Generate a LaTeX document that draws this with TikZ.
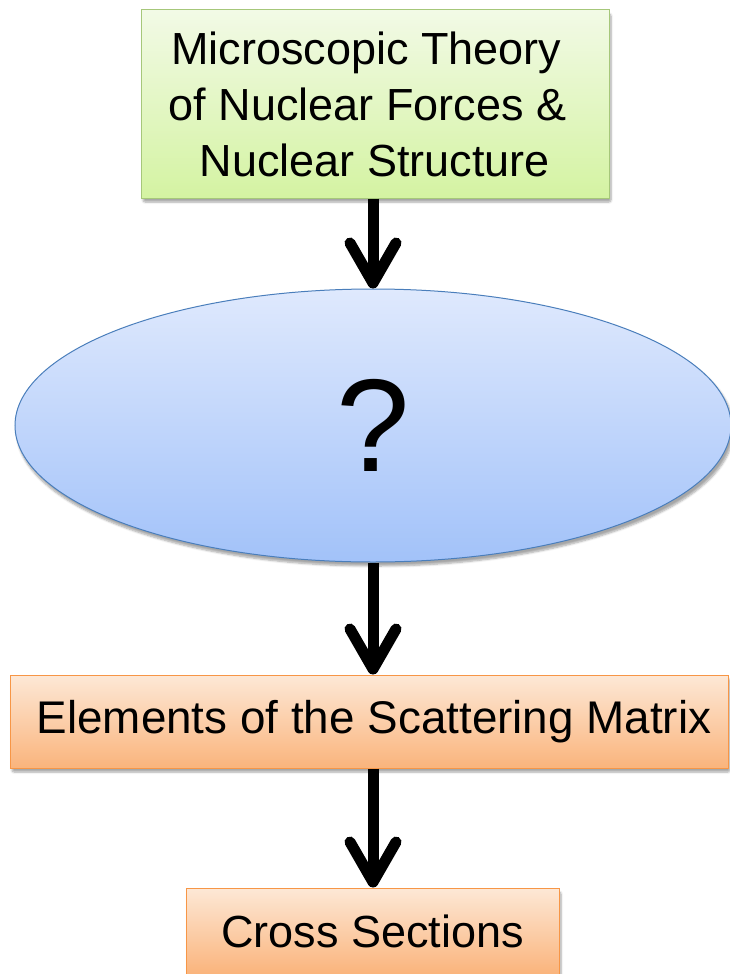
\documentclass[tikz,border=0pt]{standalone}
\usepackage{fontspec}
\setmainfont{Liberation Sans}
\usetikzlibrary{shapes.geometric, arrows.meta, shadows.blur}

\definecolor{grTop}{HTML}{F2FAE6}
\definecolor{grBot}{HTML}{D4F3A2}
\definecolor{grLine}{HTML}{A6C77A}
\definecolor{blTop}{HTML}{DFE9FD}
\definecolor{blBot}{HTML}{A2C2F9}
\definecolor{blLine}{HTML}{4A7EBB}
\definecolor{orTop}{HTML}{FDE8D6}
\definecolor{orBot}{HTML}{FAB47C}
\definecolor{orLine}{HTML}{F79646}

\tikzset{
  softshadow/.style={blur shadow={shadow xshift=2pt, shadow yshift=-4pt,
      shadow blur steps=6, shadow blur extra rounding=2pt, shadow opacity=35}},
  theorybox/.style={draw=grLine, line width=1pt, top color=grTop, bottom color=grBot,
      rectangle, inner sep=0pt, align=center, softshadow,
      font=\fontsize{45}{56}\selectfont},
  blob/.style={draw=blLine, line width=1pt, top color=blTop, bottom color=blBot,
      ellipse, inner sep=0pt, softshadow, font=\fontsize{132}{132}\selectfont},
  resultbox/.style={draw=orLine, line width=1pt, top color=orTop, bottom color=orBot,
      rectangle, inner sep=0pt, softshadow},
  flow/.style={line width=11pt, black,
      -{Straight Barb[length=40pt, width=46pt, round]},
      preaction={draw=black, opacity=0.18,
        transform canvas={xshift=3pt, yshift=-3pt}}},
}

\begin{document}
\begin{tikzpicture}[x=1pt, y=-1pt]
\useasboundingbox (0,0) rectangle (730,974);

% boxes of the chain (trailing kerns keep the first two lines left of centre)
\node[theorybox, minimum width=468pt, minimum height=188pt] (theory) at (375,104)
  {\hbox{Microscopic Theory\kern17pt}\\\hbox{of Nuclear Forces \&\kern15pt}\\ Nuclear Structure};
\node[blob, minimum width=716pt, minimum height=273pt] (unknown) at (373,425.5) {?};
\node[resultbox, minimum width=718pt, minimum height=93pt,
      font=\fontsize{45.8}{54}\selectfont] (smatrix) at (369,721.5)
  {\hspace*{10pt}Elements of the Scattering Matrix};
\node[resultbox, minimum width=373pt, minimum height=86pt,
      font=\fontsize{45}{54}\selectfont] (xsec) at (372.5,931)
  {Cross Sections};

% connectors
\draw[flow] (theory.south -| unknown.north) -- (unknown.north);
\draw[flow] (unknown.south) -- (unknown.south |- smatrix.north);
\draw[flow] (smatrix.south -| unknown.south) -- (unknown.south |- xsec.north);
\end{tikzpicture}
\end{document}
